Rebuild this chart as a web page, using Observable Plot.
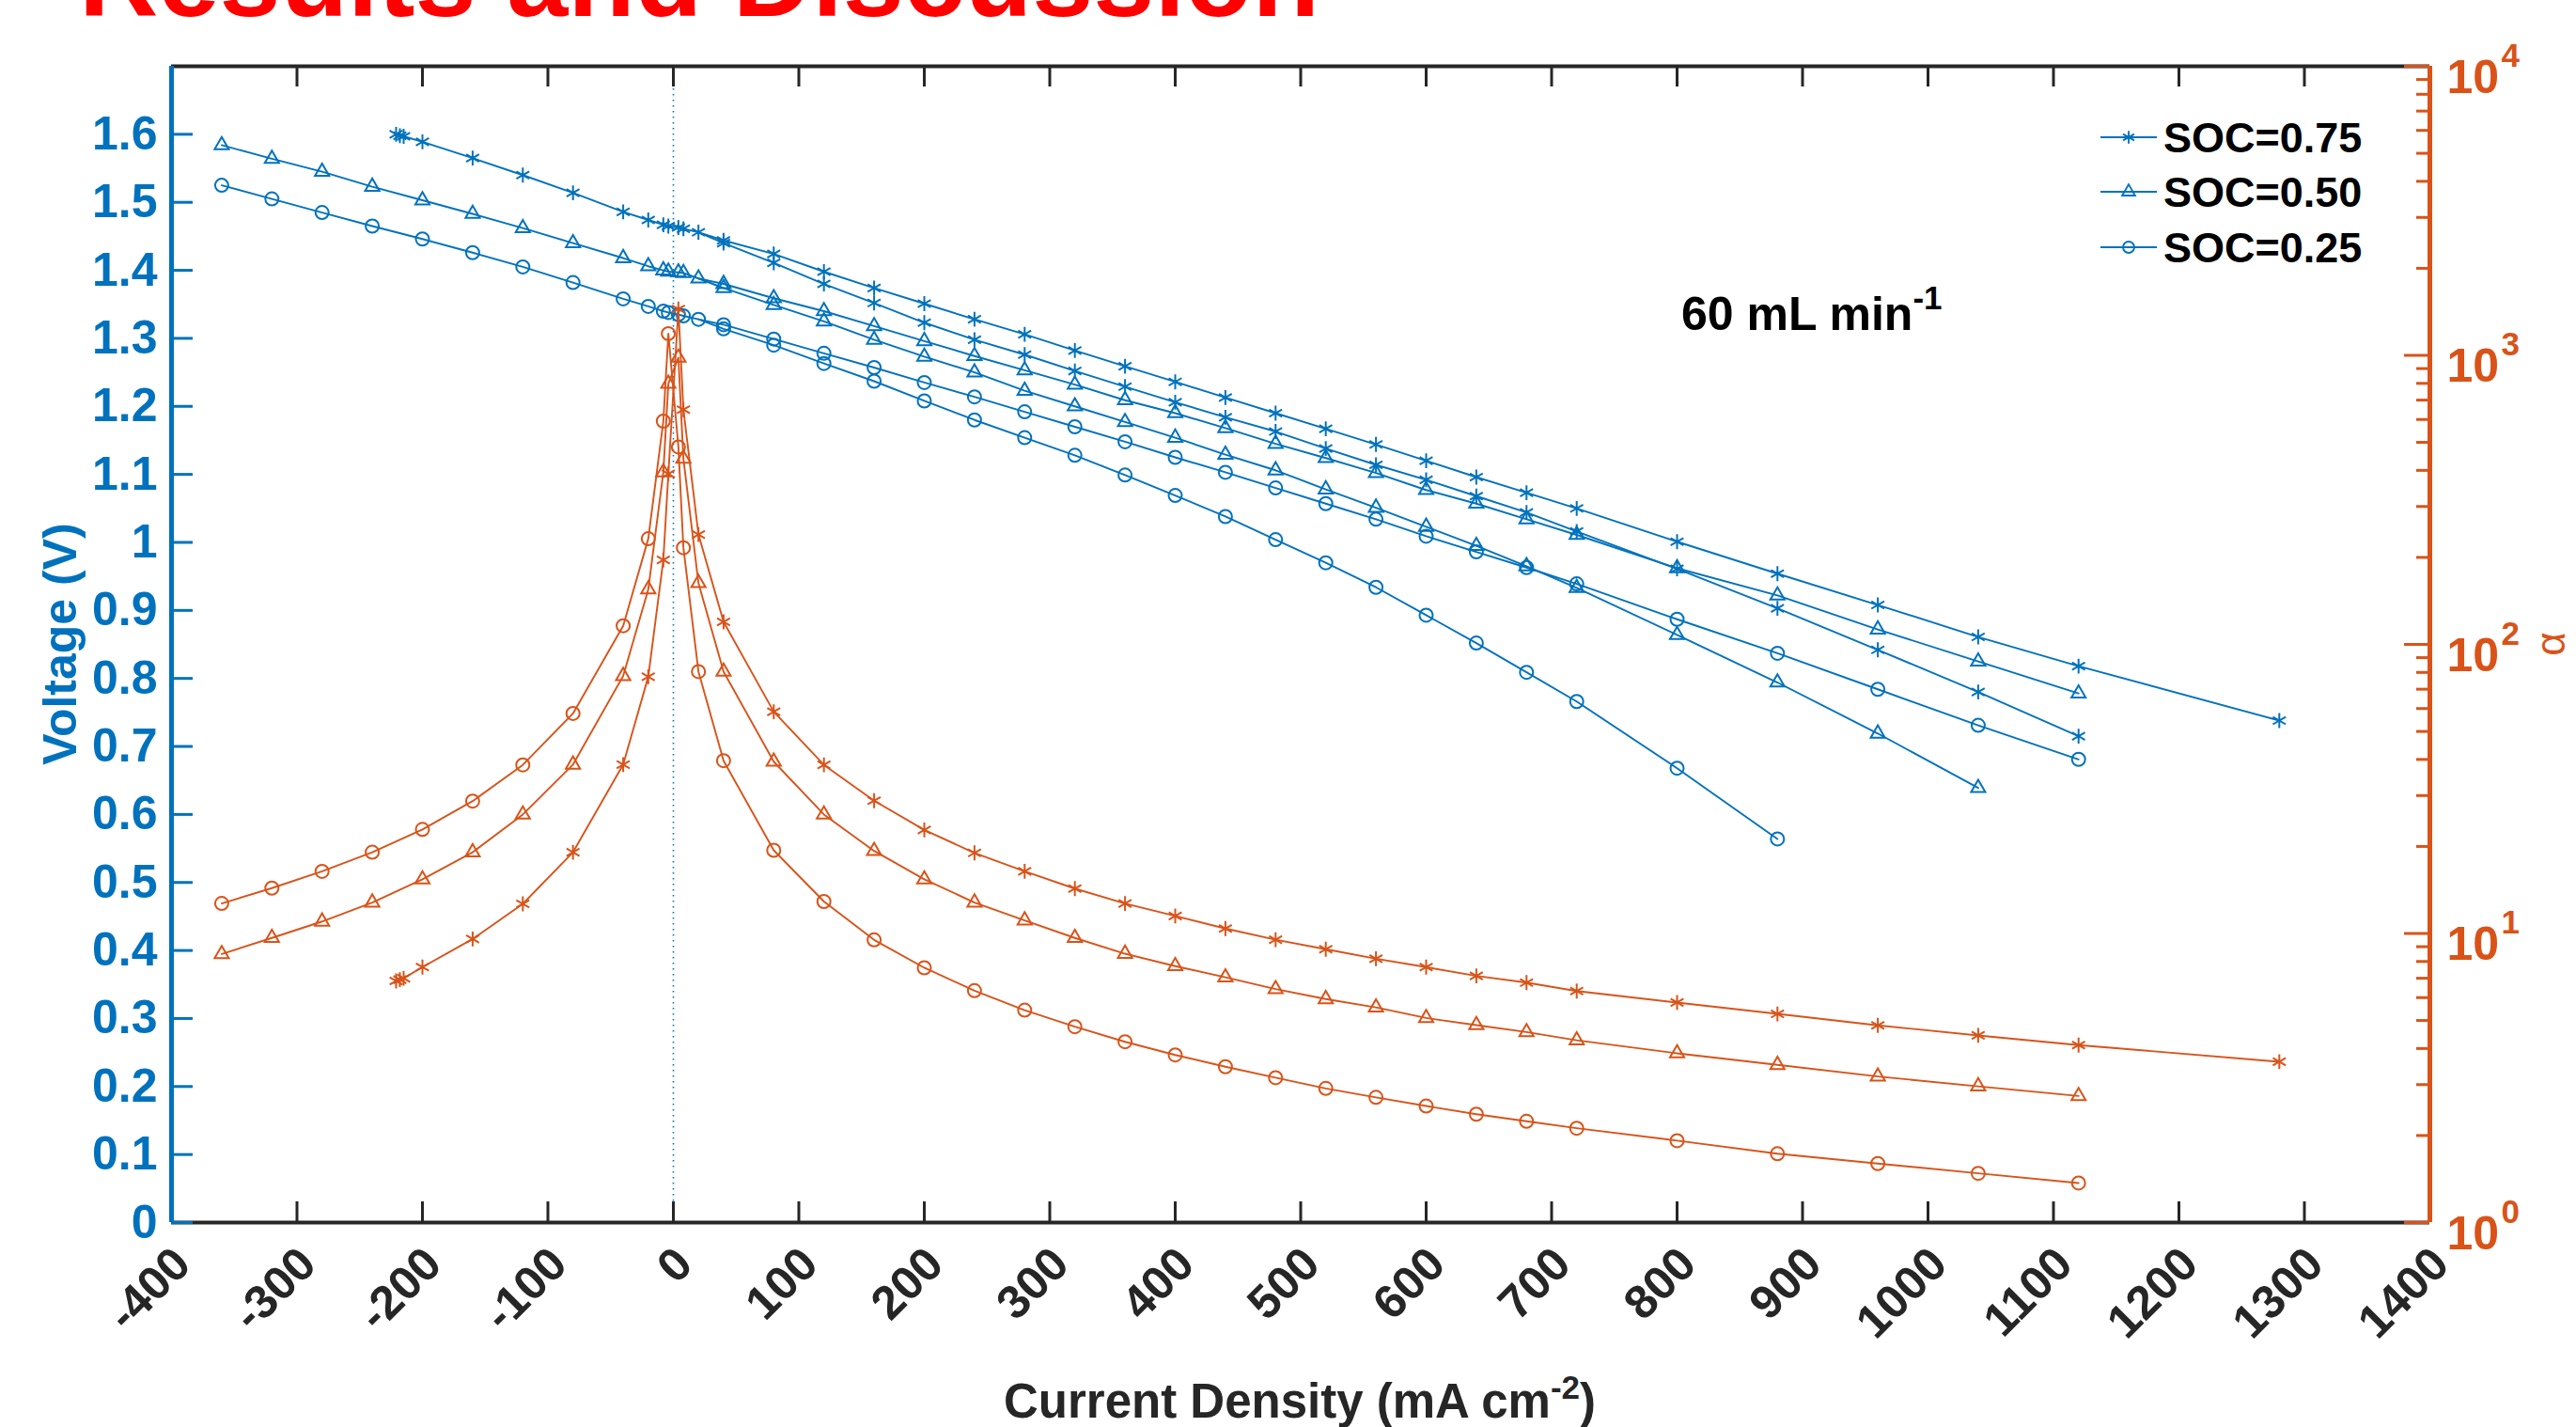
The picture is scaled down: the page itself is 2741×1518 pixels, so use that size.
<!DOCTYPE html>
<html>
<head>
<meta charset="utf-8">
<script src="https://cdn.jsdelivr.net/npm/d3@7"></script>
<script src="https://cdn.jsdelivr.net/npm/@observablehq/plot@0.6"></script>
<style>
html, body { margin: 0; padding: 0; background: #ffffff; }
#wrap { position: relative; width: 2741px; height: 1518px; overflow: hidden; background: #ffffff; }
#wrap > svg { position: absolute; left: 0; top: 0; }
</style>
</head>
<body>
<div id="wrap"></div>
<script>
// ---------------- DATA ----------------
// Voltage (V) – negative (charge) side, shared by both branches
const xNeg75 = [-221, -218, -215, -200, -160, -120, -80, -40, -20, -8, -4, 4, 8, 20];
const vNeg75 = [1.600, 1.598, 1.597, 1.589, 1.565, 1.540, 1.514, 1.486, 1.474, 1.467, 1.465, 1.463, 1.461, 1.456];
const xNeg50 = [-360, -320, -280, -240, -200, -160, -120, -80, -40, -20, -8, -4, 4, 8, 20];
const vNeg50 = [1.584, 1.564, 1.545, 1.523, 1.503, 1.483, 1.462, 1.440, 1.418, 1.406, 1.400, 1.398, 1.397, 1.396, 1.388];
const xNeg25 = [-360, -320, -280, -240, -200, -160, -120, -80, -40, -20, -8, -4, 4, 8, 20];
const vNeg25 = [1.525, 1.505, 1.485, 1.465, 1.446, 1.426, 1.405, 1.382, 1.358, 1.347, 1.340, 1.338, 1.335, 1.333, 1.328];

// positive (discharge) current densities
const xPosA75 = [40, 80, 120, 160, 200, 240, 280, 320, 360, 400, 440, 480, 520, 560, 600, 640, 680, 720, 800, 880, 960, 1040, 1120, 1280];
const xPosB75 = [40, 80, 120, 160, 200, 240, 280, 320, 360, 400, 440, 480, 520, 560, 600, 640, 680, 720, 800, 880, 960, 1040, 1120];
const xPosA50 = [40, 80, 120, 160, 200, 240, 280, 320, 360, 400, 440, 480, 520, 560, 600, 640, 680, 720, 800, 880, 960, 1040, 1120];
const xPosB50 = [40, 80, 120, 160, 200, 240, 280, 320, 360, 400, 440, 480, 520, 560, 600, 640, 680, 720, 800, 880, 960, 1040];
const xPosA25 = [40, 80, 120, 160, 200, 240, 280, 320, 360, 400, 440, 480, 520, 560, 600, 640, 680, 720, 800, 880, 960, 1040, 1120];
const xPosB25 = [40, 80, 120, 160, 200, 240, 280, 320, 360, 400, 440, 480, 520, 560, 600, 640, 680, 720, 800, 880];

const v75A = [1.444, 1.424, 1.398, 1.374, 1.351, 1.328, 1.306, 1.282, 1.259, 1.236, 1.213, 1.190, 1.167, 1.144, 1.120, 1.096, 1.073, 1.050, 1.001, 0.954, 0.908, 0.861, 0.818, 0.738];
const v75B = [1.440, 1.411, 1.380, 1.352, 1.323, 1.298, 1.276, 1.252, 1.229, 1.206, 1.184, 1.163, 1.138, 1.114, 1.092, 1.068, 1.044, 1.016, 0.961, 0.903, 0.842, 0.780, 0.715];
const v50A = [1.380, 1.359, 1.340, 1.318, 1.296, 1.274, 1.253, 1.232, 1.209, 1.190, 1.168, 1.145, 1.124, 1.102, 1.077, 1.057, 1.034, 1.011, 0.962, 0.922, 0.872, 0.825, 0.778];
const v50B = [1.374, 1.349, 1.325, 1.298, 1.273, 1.250, 1.223, 1.200, 1.177, 1.154, 1.129, 1.106, 1.078, 1.051, 1.023, 0.995, 0.965, 0.933, 0.864, 0.794, 0.719, 0.639];
const v25A = [1.320, 1.299, 1.278, 1.257, 1.235, 1.214, 1.192, 1.170, 1.148, 1.125, 1.103, 1.080, 1.057, 1.034, 1.009, 0.986, 0.963, 0.939, 0.887, 0.837, 0.784, 0.731, 0.681];
const v25B = [1.314, 1.290, 1.263, 1.237, 1.208, 1.180, 1.154, 1.128, 1.099, 1.069, 1.038, 1.004, 0.970, 0.934, 0.893, 0.852, 0.809, 0.766, 0.668, 0.564];

// alpha (right, log axis)
const xAl75 = [-221, -218, -215, -200, -160, -120, -80, -40, -20, -8, -4, 4, 8, 20, 40, 80, 120, 160, 200, 240, 280, 320, 360, 400, 440, 480, 520, 560, 600, 640, 680, 720, 800, 880, 960, 1040, 1120, 1280];
const al75 = [6.85, 6.92, 7.0, 7.65, 9.57, 12.66, 19.1, 38.4, 77.3, 196, 389, 1446, 649, 240, 119.7, 58.5, 38.3, 28.8, 22.8, 19.0, 16.4, 14.3, 12.7, 11.5, 10.4, 9.52, 8.82, 8.18, 7.65, 7.13, 6.76, 6.32, 5.77, 5.27, 4.81, 4.44, 4.11, 3.60];
const xAl50 = [-360, -320, -280, -240, -200, -160, -120, -80, -40, -20, -8, -4, 4, 8, 20, 40, 80, 120, 160, 200, 240, 280, 320, 360, 400, 440, 480, 520, 560, 600, 640, 680, 720, 800, 880, 960, 1040, 1120];
const al50 = [8.49, 9.65, 11.0, 12.8, 15.4, 19.1, 25.8, 38.4, 77.8, 155, 394, 798, 982, 439, 163, 80.5, 39.3, 25.8, 19.3, 15.4, 12.8, 11.1, 9.65, 8.51, 7.71, 7.05, 6.42, 5.93, 5.55, 5.10, 4.82, 4.56, 4.27, 3.85, 3.51, 3.20, 2.96, 2.74];
const xAl25 = [-360, -320, -280, -240, -200, -160, -120, -80, -40, -20, -8, -4, 4, 8, 20, 40, 80, 120, 160, 200, 240, 280, 320, 360, 400, 440, 480, 520, 560, 600, 640, 680, 720, 800, 880, 960, 1040, 1120];
const al25 = [12.7, 14.35, 16.4, 19.1, 22.9, 28.7, 38.3, 57.7, 116, 232, 592, 1189, 482, 216, 80.5, 39.6, 19.4, 12.9, 9.50, 7.61, 6.34, 5.43, 4.76, 4.22, 3.80, 3.46, 3.17, 2.91, 2.71, 2.53, 2.37, 2.24, 2.12, 1.92, 1.73, 1.60, 1.48, 1.37];

const socNames = ["SOC=0.75", "SOC=0.50", "SOC=0.25"];

// ticks
const xTicks = [-400, -300, -200, -100, 0, 100, 200, 300, 400, 500, 600, 700, 800, 900, 1000, 1100, 1200, 1300, 1400];
const xTickLabels = ["-400", "-300", "-200", "-100", "0", "100", "200", "300", "400", "500", "600", "700", "800", "900", "1000", "1100", "1200", "1300", "1400"];
const yTicks = [0, 0.1, 0.2, 0.3, 0.4, 0.5, 0.6, 0.7, 0.8, 0.9, 1.0, 1.1, 1.2, 1.3, 1.4, 1.5, 1.6];
const yTickLabels = ["0", "0.1", "0.2", "0.3", "0.4", "0.5", "0.6", "0.7", "0.8", "0.9", "1", "1.1", "1.2", "1.3", "1.4", "1.5", "1.6"];
const aTicks = [1, 10, 100, 1000, 10000];
const aTickExp = ["0", "1", "2", "3", "4"];
const aMinor = [2, 3, 4, 5, 6, 7, 8, 9, 20, 30, 40, 50, 60, 70, 80, 90, 200, 300, 400, 500, 600, 700, 800, 900, 2000, 3000, 4000, 5000, 6000, 7000, 8000, 9000];

// ---------------- STYLE ----------------
const BLUE = "#0072BD", ORANGE = "#D95319", DARK = "#262626";
const FONT = "'Liberation Sans', Arial, Helvetica, sans-serif";
const W = 2741, H = 1518;
const mL = 182, mR = 156, mT = 70, mB = 218;
const fw = W - mL - mR, fh = H - mT - mB;
const symbols = ["asterisk", "triangle2", "circle"];
const radii = [7.5, 7.2, 7];

// ---------------- TABLES ----------------
const pts = (xs, ys, extra) => xs.map((x, i) => ({x, y: ys[i], ...extra}));
const vSets = [
  {xNeg: xNeg75, vNeg: vNeg75, xA: xPosA75, vA: v75A, xB: xPosB75, vB: v75B},
  {xNeg: xNeg50, vNeg: vNeg50, xA: xPosA50, vA: v50A, xB: xPosB50, vB: v50B},
  {xNeg: xNeg25, vNeg: vNeg25, xA: xPosA25, vA: v25A, xB: xPosB25, vB: v25B}
];
const aSets = [{x: xAl75, a: al75}, {x: xAl50, a: al50}, {x: xAl25, a: al25}];

const vLines = [], vDots = [];
vSets.forEach((s, k) => {
  const lastX = s.xNeg[s.xNeg.length - 1], lastV = s.vNeg[s.vNeg.length - 1];
  vLines.push(...pts(s.xNeg.concat(s.xA), s.vNeg.concat(s.vA), {id: k + "A"}));
  vLines.push(...pts([lastX].concat(s.xB), [lastV].concat(s.vB), {id: k + "B"}));
  vDots.push(pts(s.xNeg.concat(s.xA, s.xB), s.vNeg.concat(s.vA, s.vB), {k}));
});
const aLines = [];
aSets.forEach((s, k) => aLines.push(...pts(s.x, s.a, {id: "a" + k})));

// ---------------- VOLTAGE PLOT ----------------
const plotV = Plot.plot({
  width: W, height: H,
  marginLeft: mL, marginRight: mR, marginTop: mT, marginBottom: mB,
  x: {domain: [-400, 1400], axis: null},
  y: {domain: [0, 1.7], axis: null},
  style: {fontFamily: FONT, background: "transparent", overflow: "visible"},
  marks: [
    Plot.ruleX([0], {stroke: BLUE, strokeWidth: 1.6, strokeDasharray: "1.6,4.4"}),
    Plot.line(vLines, {x: "x", y: "y", z: "id", stroke: BLUE, strokeWidth: 1.9}),
    ...vDots.map((d, k) => Plot.dot(d, {x: "x", y: "y", symbol: symbols[k], r: radii[k], stroke: BLUE, strokeWidth: 2, fill: "none"})),
    // frame
    Plot.ruleY([0], {stroke: DARK, strokeWidth: 4}),
    Plot.ruleY([1.7], {stroke: DARK, strokeWidth: 4}),
    Plot.tickX(xTicks, {x: d => d, insetTop: fh - 22, stroke: DARK, strokeWidth: 3}),
    Plot.tickX(xTicks, {x: d => d, insetBottom: fh - 22, stroke: DARK, strokeWidth: 3}),
    Plot.ruleX([-400], {stroke: BLUE, strokeWidth: 5}),
    Plot.tickY(yTicks, {y: d => d, insetRight: fw - 23, stroke: BLUE, strokeWidth: 3}),
    Plot.text(yTicks, {y: d => d, text: (d, i) => yTickLabels[i], frameAnchor: "left", textAnchor: "end", dx: -15,
      fill: BLUE, fontSize: 50, fontWeight: "bold"}),
    Plot.text(xTicks, {x: d => d, text: (d, i) => xTickLabels[i], frameAnchor: "bottom", rotate: -45, textAnchor: "end",
      dx: 23, dy: 47, fill: DARK, fontSize: 50, fontWeight: "bold"})
  ]
});

// ---------------- ALPHA PLOT (right, log) ----------------
const plotA = Plot.plot({
  width: W, height: H,
  marginLeft: mL, marginRight: mR, marginTop: mT, marginBottom: mB,
  x: {domain: [-400, 1400], axis: null},
  y: {type: "log", domain: [1, 10000], axis: null},
  style: {fontFamily: FONT, background: "transparent", overflow: "visible"},
  marks: [
    Plot.line(aLines, {x: "x", y: "y", z: "id", stroke: ORANGE, strokeWidth: 1.9}),
    ...aSets.map((s, k) => Plot.dot(pts(s.x, s.a, {}), {x: "x", y: "y", symbol: symbols[k], r: radii[k], stroke: ORANGE, strokeWidth: 2, fill: "none"})),
    Plot.ruleX([1400], {stroke: ORANGE, strokeWidth: 5}),
    Plot.tickY(aTicks, {y: d => d, insetLeft: fw - 27, stroke: ORANGE, strokeWidth: 3}),
    Plot.tickY(aMinor, {y: d => d, insetLeft: fw - 14, stroke: ORANGE, strokeWidth: 3}),
    Plot.text(aTicks, {y: d => d, text: () => "10", frameAnchor: "right", textAnchor: "start", dx: 18, dy: 12,
      fill: ORANGE, fontSize: 50, fontWeight: "bold"}),
    Plot.text(aTicks, {y: d => d, text: (d, i) => aTickExp[i], frameAnchor: "right", textAnchor: "start", dx: 76, dy: -11,
      fill: ORANGE, fontSize: 35, fontWeight: "bold"})
  ]
});

const wrap = document.getElementById("wrap");
wrap.appendChild(plotV);
wrap.appendChild(plotA);

// ---------------- TEXT OVERLAY (titles, labels, legend) ----------------
const ov = d3.select(wrap).append("svg").attr("width", W).attr("height", H)
  .style("font-family", FONT);

ov.append("text").attr("x", 84).attr("y", 17).attr("font-size", 117).attr("font-weight", "bold")
  .attr("fill", "#FF0000").text("Results and Discussion");

const xl = ov.append("text").attr("x", 1383).attr("y", 1508).attr("text-anchor", "middle")
  .attr("font-size", 51).attr("font-weight", "bold").attr("fill", DARK);
xl.append("tspan").text("Current Density (mA cm");
xl.append("tspan").attr("dy", -20).attr("font-size", 35).text("-2");
xl.append("tspan").attr("dy", 20).text(")");

ov.append("text").attr("transform", "translate(81,685) rotate(-90)").attr("text-anchor", "middle")
  .attr("font-size", 50).attr("font-weight", "bold").attr("fill", BLUE).text("Voltage (V)");

ov.append("text").attr("transform", "translate(2729,685) rotate(-90)").attr("text-anchor", "middle")
  .attr("font-size", 44).attr("fill", ORANGE).text("α");

const ann = ov.append("text").attr("x", 1789).attr("y", 351).attr("font-size", 50).attr("font-weight", "bold").attr("fill", "#000");
ann.append("tspan").text("60 mL min");
ann.append("tspan").attr("dy", -22).attr("font-size", 35).text("-1");

// legend
const legRows = [146, 204, 263];
const symTypes = [d3.symbolAsterisk, d3.symbolTriangle2, d3.symbolCircle];
const legR = [6.5, 6.5, 6];
socNames.forEach((name, k) => {
  const y = legRows[k];
  ov.append("line").attr("x1", 2235).attr("x2", 2295).attr("y1", y).attr("y2", y)
    .attr("stroke", BLUE).attr("stroke-width", 1.9);
  ov.append("path").attr("transform", `translate(2265,${y})`)
    .attr("d", d3.symbol(symTypes[k], Math.PI * legR[k] * legR[k])())
    .attr("fill", "none").attr("stroke", BLUE).attr("stroke-width", 1.9);
  ov.append("text").attr("x", 2302).attr("y", y + 16).attr("font-size", 45).attr("font-weight", "bold")
    .attr("fill", "#000").text(name);
});
</script>
</body>
</html>
